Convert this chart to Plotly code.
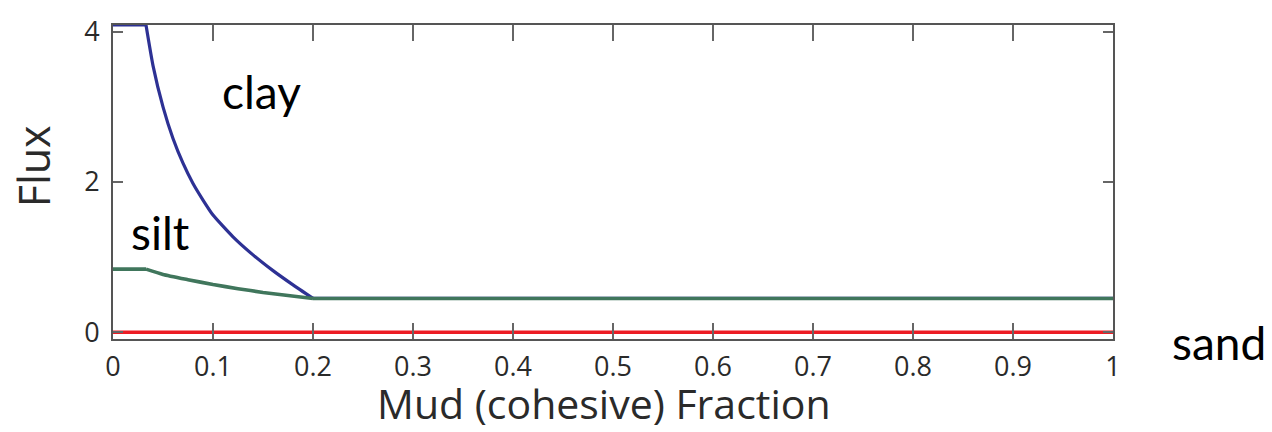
import plotly.graph_objects as go

# Mud (cohesive) fraction vs. erosion flux for each sediment class
clay_x = [0.0, 0.033, 0.04, 0.05, 0.06, 0.07, 0.08, 0.09, 0.10, 0.12, 0.14, 0.16, 0.18, 0.20, 1.0]
clay_y = [4.09, 4.09, 3.55, 3.0, 2.58, 2.25, 1.98, 1.76, 1.56, 1.27, 1.03, 0.82, 0.63, 0.45, 0.45]

silt_x = [0.0, 0.033, 0.05, 0.075, 0.10, 0.125, 0.15, 0.175, 0.20, 1.0]
silt_y = [0.84, 0.84, 0.77, 0.70, 0.635, 0.58, 0.53, 0.49, 0.45, 0.45]

sand_x = [0.0, 1.0]
sand_y = [0.0, 0.0]

x_ticks = [0, 0.1, 0.2, 0.3, 0.4, 0.5, 0.6, 0.7, 0.8, 0.9, 1]
x_tick_text = ["0", "0.1", "0.2", "0.3", "0.4", "0.5", "0.6", "0.7", "0.8", "0.9", "1"]
y_ticks = [0, 2, 4]

# curve labels: (text, x, y, reference frame)
labels = ["clay", "silt", "sand"]
label_x = [0.148, 0.047, 1.106]
label_y = [3.2, 1.33, -0.012]
label_ref = ["data", "data", "paper"]

fig = go.Figure()
fig.add_trace(go.Scatter(x=sand_x, y=sand_y, mode="lines",
                         line=dict(color="#ec1c24", width=3.5), cliponaxis=False))


def add_piecewise(xs, ys, color, width):
    """Flat plateaus as straight lines, the decaying middle part as a smooth curve."""
    fig.add_trace(go.Scatter(x=xs[:2], y=ys[:2], mode="lines",
                             line=dict(color=color, width=width)))
    fig.add_trace(go.Scatter(x=xs[1:-1], y=ys[1:-1], mode="lines",
                             line=dict(color=color, width=width, shape="spline", smoothing=0.5)))
    fig.add_trace(go.Scatter(x=xs[-2:], y=ys[-2:], mode="lines",
                             line=dict(color=color, width=width)))


add_piecewise(clay_x, clay_y, "#2d3194", 3.2)
add_piecewise(silt_x, silt_y, "#40765c", 3.6)

tick_font = dict(family="Open Sans, sans-serif", size=27, color="#2a2a2a")
title_font = dict(family="Open Sans, sans-serif", size=41, color="#2a2a2a")

for txt, lx, ly, ref in zip(labels, label_x, label_y, label_ref):
    xr, yr = ("x", "y") if ref == "data" else ("paper", "paper")
    fig.add_annotation(x=lx, y=ly, xref=xr, yref=yr, text=txt, showarrow=False,
                       font=dict(family="Lato, Open Sans, sans-serif", size=46, color="#000000"),
                       xanchor="center", yanchor="middle")

# axis titles
fig.add_annotation(x=-0.08, y=0.55, xref="paper", yref="paper", text="Flux",
                   textangle=-90, showarrow=False, font=dict(title_font, size=43),
                   xanchor="center", yanchor="middle")
fig.add_annotation(x=0.491, y=-0.204, xref="paper", yref="paper",
                   text="Mud (cohesive) Fraction", showarrow=False, font=title_font,
                   xanchor="center", yanchor="middle")

fig.update_layout(
    width=1272, height=432,
    margin=dict(l=113, r=159, t=15, b=93),
    paper_bgcolor="white", plot_bgcolor="white",
    showlegend=False,
    xaxis=dict(range=[0, 1], tickvals=x_ticks, ticktext=x_tick_text,
               ticks="inside", ticklen=16, tickwidth=1.5, tickcolor="#666666",
               showline=True, linecolor="#555555", linewidth=2, mirror="ticks",
               showgrid=False, zeroline=False, tickfont=tick_font, ticklabelstandoff=3),
    yaxis=dict(range=[-0.09, 4.09], tickvals=y_ticks,
               ticks="inside", ticklen=10, tickwidth=1.5, tickcolor="#666666",
               showline=True, linecolor="#555555", linewidth=2, mirror="ticks",
               showgrid=False, zeroline=False, tickfont=tick_font, ticklabelstandoff=6),
)

fig.write_html("out.html")
